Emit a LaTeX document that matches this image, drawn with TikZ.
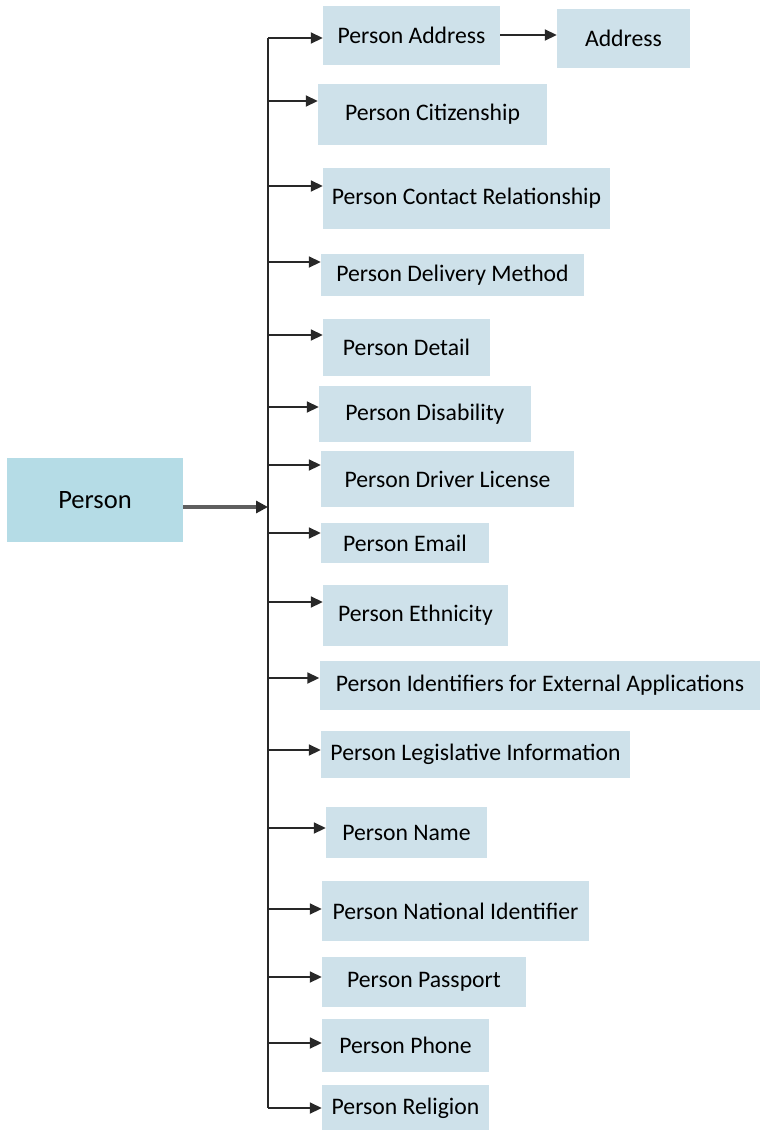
\documentclass[tikz,border=0pt]{standalone}
\usepackage{fontspec}
\setmainfont{Carlito}
\usetikzlibrary{arrows.meta}
\definecolor{rootfill}{RGB}{181,220,230}
\definecolor{childfill}{RGB}{206,225,234}
\definecolor{busgray}{RGB}{40,40,40}
\definecolor{rootarrow}{RGB}{95,95,95}
\tikzset{
  childbox/.style={fill=childfill, draw=none, inner sep=0pt, align=center, text=black,
    font=\fontsize{23.7}{28}\selectfont},
  rootbox/.style={fill=rootfill, draw=none, inner sep=0pt, align=center, text=black,
    font=\fontsize{26.5}{31}\selectfont},
  childarrow/.style={line width=1.8pt, draw=busgray, -{Triangle[length=12pt,width=11pt]}},
  rootconn/.style={line width=3.5pt, draw=rootarrow, -{Triangle[length=12pt,width=12pt,fill=busgray,color=busgray]}},
  busline/.style={line width=2pt, draw=busgray}
}
\begin{document}
\begin{tikzpicture}[x=1pt,y=-1pt]
\useasboundingbox (0,0) rectangle (760,1130);
% root
\node[rootbox, minimum width=176pt, minimum height=84pt] (person) at (95,500) {Person};
% children
\node[childbox, minimum width=177pt, minimum height=59pt] (pa) at (411.5,35.5) {Person Address};
\node[childbox, minimum width=133pt, minimum height=59pt] (addr) at (623.5,38.5) {Address};
\node[childbox, minimum width=229pt, minimum height=61pt] (cit) at (432.5,114.5) {Person Citizenship};
\node[childbox, minimum width=287pt, minimum height=61pt] (con) at (466.5,198.5) {Person Contact Relationship};
\node[childbox, minimum width=263pt, minimum height=42pt] (del) at (452.5,275) {Person Delivery Method};
\node[childbox, minimum width=167pt, minimum height=57pt] (det) at (406.5,347.5) {Person Detail};
\node[childbox, minimum width=212pt, minimum height=56pt] (dis) at (425,414) {Person Disability};
\node[childbox, minimum width=253pt, minimum height=56pt] (drv) at (447.5,479) {Person Driver License};
\node[childbox, minimum width=168pt, minimum height=40pt] (em) at (405,543) {Person Email};
\node[childbox, minimum width=185pt, minimum height=61pt] (eth) at (415.5,615.5) {Person Ethnicity};
\node[childbox, minimum width=441pt, minimum height=49pt] (ide) at (540,685.5) {Person Identifiers for External Applications};
\node[childbox, minimum width=309pt, minimum height=47pt] (leg) at (475.5,754.5) {Person Legislative Information};
\node[childbox, minimum width=161pt, minimum height=51pt] (nam) at (406.5,832.5) {Person Name};
\node[childbox, minimum width=267pt, minimum height=60pt] (nat) at (455.5,911) {Person National Identifier};
\node[childbox, minimum width=204pt, minimum height=50pt] (pas) at (424,982) {Person Passport};
\node[childbox, minimum width=167pt, minimum height=53pt] (pho) at (405.5,1045.5) {Person Phone};
\node[childbox, minimum width=167pt, minimum height=47pt] (rel) at (405.5,1108.5) {Person Religion};
% bus coordinates
\coordinate (b1) at (268,38);
\coordinate (b2) at (268,101);
\coordinate (b3) at (268,186);
\coordinate (b4) at (268,262);
\coordinate (b5) at (268,335);
\coordinate (b6) at (268,407);
\coordinate (b7) at (268,465);
\coordinate (b8) at (268,533);
\coordinate (b9) at (268,602);
\coordinate (b10) at (268,678);
\coordinate (b11) at (268,750);
\coordinate (b12) at (268,828);
\coordinate (b13) at (268,909);
\coordinate (b14) at (268,977);
\coordinate (b15) at (268,1043);
\coordinate (b16) at (268,1108);
\coordinate (join) at (268,507);
\coordinate (pastart) at (501,35);
% bus
\draw[busline] (b1) -- (b16);
% root connector
\draw[rootconn] (person.east |- join) -- (join);
% child connectors
\draw[childarrow] (b1) -- (b1 -| pa.west);
\draw[childarrow] (b2) -- (b2 -| cit.west);
\draw[childarrow] (b3) -- (b3 -| con.west);
\draw[childarrow] (b4) -- (b4 -| del.west);
\draw[childarrow] (b5) -- (b5 -| det.west);
\draw[childarrow] (b6) -- (b6 -| dis.west);
\draw[childarrow] (b7) -- (b7 -| drv.west);
\draw[childarrow] (b8) -- (b8 -| em.west);
\draw[childarrow] (b9) -- (b9 -| eth.west);
\draw[childarrow] (b10) -- (b10 -| ide.west);
\draw[childarrow] (b11) -- (b11 -| leg.west);
\draw[childarrow] (b12) -- (b12 -| nam.west);
\draw[childarrow] (b13) -- (b13 -| nat.west);
\draw[childarrow] (b14) -- (b14 -| pas.west);
\draw[childarrow] (b15) -- (b15 -| pho.west);
\draw[childarrow] (b16) -- (b16 -| rel.west);
\draw[childarrow] (pa.east |- pastart) -- (pastart -| addr.west);
\end{tikzpicture}
\end{document}
